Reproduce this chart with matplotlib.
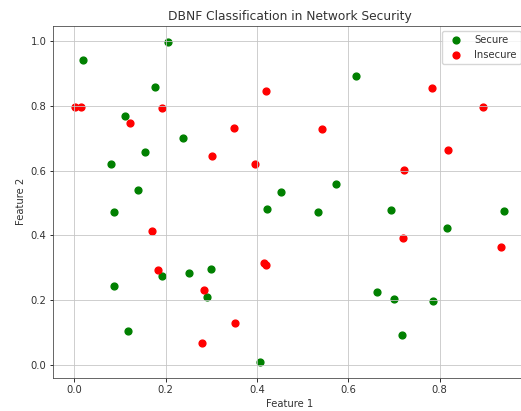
import matplotlib
matplotlib.use("Agg")
import matplotlib.pyplot as plt

# Secure points (Feature 1, Feature 2)
secure_x = [0.020, 0.205, 0.177, 0.110, 0.239, 0.155, 0.080, 0.140, 0.452, 0.618,
            0.574, 0.088, 0.086, 0.117, 0.192, 0.252, 0.299, 0.290, 0.406, 0.421,
            0.534, 0.693, 0.942, 0.817, 0.663, 0.701, 0.786, 0.718]
secure_y = [0.941, 0.998, 0.859, 0.768, 0.702, 0.659, 0.619, 0.539, 0.535, 0.893,
            0.559, 0.471, 0.243, 0.104, 0.273, 0.283, 0.297, 0.208, 0.010, 0.480,
            0.473, 0.478, 0.475, 0.424, 0.224, 0.203, 0.196, 0.091]

# Insecure points
insecure_x = [0.001, 0.015, 0.193, 0.123, 0.420, 0.349, 0.302, 0.395, 0.784, 0.895,
              0.542, 0.818, 0.722, 0.170, 0.184, 0.284, 0.280, 0.352, 0.416, 0.420,
              0.719, 0.935]
insecure_y = [0.795, 0.798, 0.793, 0.747, 0.846, 0.732, 0.645, 0.620, 0.855, 0.796,
              0.728, 0.663, 0.601, 0.413, 0.292, 0.230, 0.067, 0.128, 0.315, 0.309,
              0.393, 0.363]

S = 0.72  # scale of the original render
plt.rcParams["font.size"] = 10 * S
plt.rcParams["text.color"] = "#333333"
plt.rcParams["axes.labelcolor"] = "#333333"
plt.rcParams["xtick.labelcolor"] = "#333333"
plt.rcParams["ytick.labelcolor"] = "#333333"

fig = plt.figure(figsize=(5.21, 4.11), dpi=100)
ax = fig.add_axes([0.1023, 0.0813, 0.907, 0.856])

ax.scatter(secure_x, secure_y, c="green", s=24, label="Secure")
ax.scatter(insecure_x, insecure_y, c="red", s=24, label="Insecure")

ax.set_title("DBNF Classification in Network Security", fontsize=8.8, pad=6 * S)
ax.set_xlabel("Feature 1", labelpad=4 * S)
ax.set_ylabel("Feature 2", labelpad=4 * S)
ax.grid(True, linewidth=0.8 * S, color="#c4c4c4")
ax.tick_params(width=0.8 * S, length=3.5 * S, pad=3.5 * S)
for sp in ax.spines.values():
    sp.set_linewidth(0.8 * S)
    sp.set_color("#444444")
ax.legend(loc="upper right")

fig.savefig("out.png", dpi=100)
